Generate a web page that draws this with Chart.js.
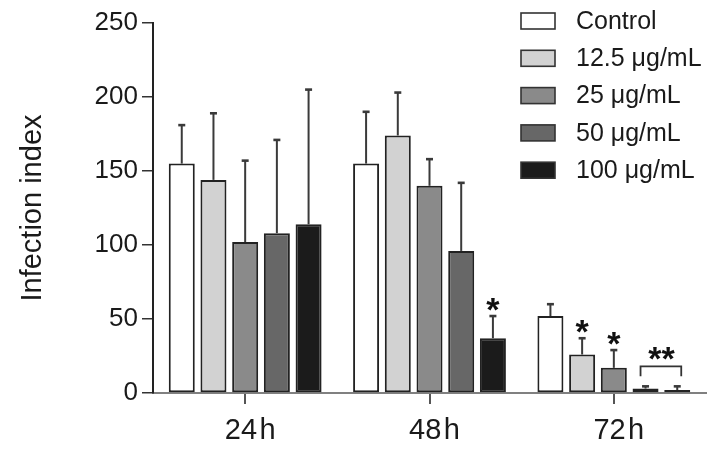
<!DOCTYPE html>
<html>
<head>
<meta charset="utf-8">
<script src="https://cdn.jsdelivr.net/npm/chart.js@4.4.0/dist/chart.umd.min.js"></script>
<style>
  html, body { margin: 0; padding: 0; background: #fff; }
  #wrap { width: 712px; height: 451px; }
</style>
</head>
<body>
<div id="wrap"><canvas id="chart"></canvas></div>
<script>
// categories / series
const timePoints = ['24\u200ah', '48\u200ah', '72\u200ah'];
const seriesNames = ['Control', '12.5 \u03bcg/mL', '25 \u03bcg/mL', '50 \u03bcg/mL', '100 \u03bcg/mL'];
const seriesColors = ['#ffffff', '#d2d2d2', '#8a8a8a', '#676767', '#1b1b1b'];

// mean values per series (24h, 48h, 72h)
const control = [155, 155, 52];
const dose12 = [144, 174, 26];
const dose25 = [102, 140, 17];
const dose50 = [108, 96, 3];
const dose100 = [114, 37, 2];

// upper error (SD)
const controlSd = [26, 35, 8];
const dose12Sd = [45, 29, 11];
const dose25Sd = [55, 18, 12];
const dose50Sd = [63, 46, 1.5];
const dose100Sd = [91, 15, 2.5];

const yTicks = [0, 50, 100, 150, 200, 250];

// significance marks: [series index, time index, text]
const stars = [[4, 1, '*'], [1, 2, '*'], [2, 2, '*']];
const bracket = { from: 3, to: 4, group: 2, text: '**' };

const FONT = "'Liberation Sans', Arial, Helvetica, sans-serif";
const means = [control, dose12, dose25, dose50, dose100];
const sds = [controlSd, dose12Sd, dose25Sd, dose50Sd, dose100Sd];

const datasets = seriesNames.map((name, i) => ({
  label: name,
  data: means[i],
  sd: sds[i],
  backgroundColor: seriesColors[i],
  borderColor: '#222',
  borderWidth: 2,
  borderSkipped: false,
  categoryPercentage: 0.86,
  barPercentage: 0.82
}));

// error bars + asterisks
const marks = {
  id: 'marks',
  afterDatasetsDraw(chart) {
    const ctx = chart.ctx;
    const y = chart.scales.y;
    ctx.save();
    ctx.strokeStyle = '#3a3a3a';
    chart.data.datasets.forEach((ds, i) => {
      chart.getDatasetMeta(i).data.forEach((bar, j) => {
        const top = y.getPixelForValue(ds.data[j] + ds.sd[j]);
        ctx.lineWidth = 2;
        ctx.beginPath();
        ctx.moveTo(bar.x, bar.y);
        ctx.lineTo(bar.x, top);
        ctx.stroke();
        ctx.lineWidth = 2.6;
        ctx.beginPath();
        ctx.moveTo(bar.x - 3.5, top);
        ctx.lineTo(bar.x + 3.5, top);
        ctx.stroke();
      });
    });

    ctx.fillStyle = '#111';
    ctx.font = 'bold 34px ' + FONT;
    ctx.textAlign = 'center';
    ctx.textBaseline = 'alphabetic';
    stars.forEach(([s, g, txt]) => {
      const ds = chart.data.datasets[s];
      const bar = chart.getDatasetMeta(s).data[g];
      const top = y.getPixelForValue(ds.data[g] + ds.sd[g]);
      ctx.fillText(txt, bar.x, top - 14 + 19);
    });

    // bracket over the two smallest bars
    const a = chart.getDatasetMeta(bracket.from).data[bracket.group];
    const b = chart.getDatasetMeta(bracket.to).data[bracket.group];
    let hi = 0;
    [bracket.from, bracket.to].forEach(s => {
      const ds = chart.data.datasets[s];
      hi = Math.max(hi, ds.data[bracket.group] + ds.sd[bracket.group]);
    });
    const by = y.getPixelForValue(hi) - 20;
    ctx.strokeStyle = '#333';
    ctx.lineWidth = 1.8;
    ctx.beginPath();
    ctx.moveTo(a.x - 5, by + 10);
    ctx.lineTo(a.x - 5, by);
    ctx.lineTo(b.x + 4, by);
    ctx.lineTo(b.x + 4, by + 10);
    ctx.stroke();
    ctx.fillText(bracket.text, (a.x + b.x) / 2, by - 15 + 19);
    ctx.restore();
  }
};

// legend drawn top-right, like the original
const legendBoxes = {
  id: 'legendBoxes',
  afterDraw(chart) {
    const ctx = chart.ctx;
    ctx.save();
    ctx.font = '25px ' + FONT;
    ctx.textBaseline = 'middle';
    ctx.textAlign = 'left';
    chart.data.datasets.forEach((ds, i) => {
      const cy = 21 + i * 37.3;
      ctx.fillStyle = ds.backgroundColor;
      ctx.fillRect(521, cy - 8, 34, 16);
      ctx.strokeStyle = '#333';
      ctx.lineWidth = 1.6;
      ctx.strokeRect(521, cy - 8, 34, 16);
      ctx.fillStyle = '#1a1a1a';
      ctx.fillText(ds.label, 576, cy + 1);
    });
    ctx.restore();
  }
};

new Chart(document.getElementById('chart'), {
  type: 'bar',
  data: { labels: timePoints, datasets },
  options: {
    responsive: true,
    maintainAspectRatio: false,
    animation: false,
    layout: { padding: { top: 23, right: 6, left: 0, bottom: 0 } },
    plugins: {
      legend: { display: false },
      tooltip: { enabled: false }
    },
    scales: {
      x: {
        offset: true,
        border: { display: true, color: '#808080', width: 2 },
        grid: { display: true, offset: false, drawOnChartArea: false, drawTicks: true, tickLength: 11, color: '#555', lineWidth: 2 },
        ticks: { color: '#1a1a1a', font: { family: FONT, size: 29 }, padding: 10, labelOffset: 5, maxRotation: 0 },
        afterFit(scale) { scale.height = 58; }
      },
      y: {
        min: 0,
        max: 250,
        afterBuildTicks(scale) { scale.ticks = yTicks.map(v => ({ value: v })); },
        border: { display: true, color: '#222', width: 2 },
        grid: { display: true, drawOnChartArea: false, drawTicks: true, tickLength: 11, color: '#333', lineWidth: 1.5 },
        ticks: { color: '#1a1a1a', font: { family: FONT, size: 26 }, padding: 4 },
        title: {
          display: true,
          text: 'Infection index',
          color: '#1a1a1a',
          font: { family: FONT, size: 29, lineHeight: 1.2 },
          padding: { top: 16, bottom: 0 }
        },
        afterFit(scale) { scale.width = 153; }
      }
    }
  },
  plugins: [marks, legendBoxes]
});
</script>
</body>
</html>
